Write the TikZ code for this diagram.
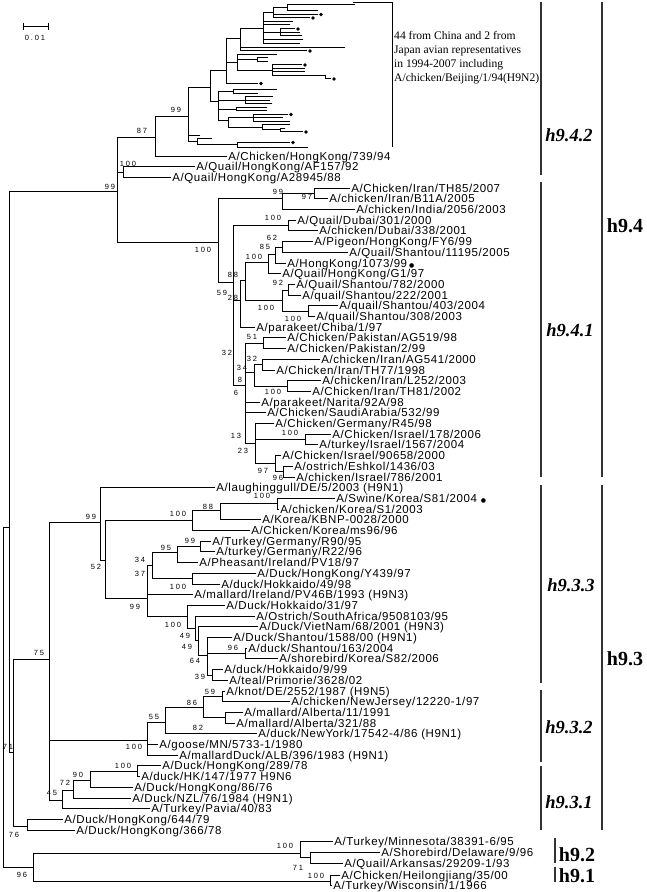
\documentclass[tikz,border=0pt]{standalone}
\usepackage{fontspec}
\setmainfont{Liberation Serif}
\newfontfamily\lblfont[LetterSpace=5]{Liberation Sans}
\newfontfamily\bsfont[LetterSpace=25]{Liberation Sans}
\newfontfamily\djvfont{DejaVu Sans}
\newcommand\dotsym{{\djvfont\fontsize{6}{6}\selectfont ●}}
\newcommand\lf[4]{\node[leafnode] (#1) at (#2,#3) {#4};}
\newcommand\tp[3]{\coordinate (#1) at (#2,#3);}
\newcommand\kids[2]{\foreach \kid in {#2}{\draw[edgeln] (#1) |- (\kid.west);}}
\newcommand\bsl[4]{\node[bsnode] (#1) at (#2,#3) {#4};}
\tikzset{
  edgeln/.style={line width=0.95pt, line cap=rect},
  leafnode/.style={anchor=west, inner xsep=1.2pt, inner ysep=0pt, text height=8pt, text depth=0pt, font=\lblfont\fontsize{11.5}{11.5}\selectfont},
  bsnode/.style={inner sep=0pt, font=\bsfont\fontsize{7.5}{7.5}\selectfont},
  cbar/.style={line width=1.2pt, black!80},
  subclade/.style={font=\bfseries\itshape\fontsize{18.5}{18.5}\selectfont, inner sep=0pt},
  mainclade/.style={font=\bfseries\fontsize{20}{20}\selectfont, inner sep=0pt}
}
\begin{document}
\begin{tikzpicture}[x=1pt,y=-1pt]
\useasboundingbox (0,0) rectangle (646,892);
\fill[white] (0,0) rectangle (646,892);

% scale bar
\draw[line width=0.95pt] (23,26) -- (48,26);
\draw[line width=0.95pt] (23,22.5) -- (23,29.5);
\draw[line width=0.95pt] (48,22.5) -- (48,29.5);
\node[bsnode] (scl) at (35,38) {0.01};

% ---------------- top cluster h9.4.2 ----------------
\tp{N99b}{188}{116}
\tp{N210}{210}{87}
\tp{N226}{226}{70}
\tp{N240}{240}{38}
\tp{N263}{263}{28}
\tp{N273}{273}{12}
\tp{N287}{287}{7}
\tp{ta}{355}{4}
\tp{tb}{318}{10}
\tp{tc}{318}{14}
\tp{td}{310}{17.5}
\tp{te}{293}{21}
\tp{tf}{290}{24.5}
\tp{N280b}{280}{32}
\tp{tg}{295}{28.5}
\tp{th}{300}{32}
\tp{ti}{302}{35.5}
\tp{tj}{303}{39.5}
\tp{tk}{300}{43}
\tp{tl}{345}{47}
\tp{tm}{307}{50.5}
\tp{N237}{237}{62}
\tp{tn}{277}{54}
\tp{N257}{257}{59}
\tp{to}{268}{57.5}
\tp{tq}{268}{61}
\tp{N272}{272}{70}
\tp{tr}{302}{64.5}
\tp{ts}{305}{68}
\tp{tt}{305}{71.5}
\tp{tu}{325}{75}
\tp{hk}{331}{78.5}
\tp{tv}{258}{83}
\tp{N218}{218}{101}
\tp{N233}{233}{91}
\tp{tw}{277}{89}
\tp{tx}{258}{93}
\tp{N245b}{245}{100}
\tp{ty}{273}{96.5}
\tp{tz}{270}{100}
\tp{ua}{272}{103.5}
\tp{N236}{236}{109}
\tp{ub}{267}{107}
\tp{uc}{267}{110.5}
\tp{N228}{228}{120}
\tp{N253}{253}{117}
\tp{ud}{288}{114}
\tp{ue}{283}{117.5}
\tp{uf}{290}{121}
\tp{N262}{262}{127}
\tp{ug}{290}{124.5}
\tp{N280c}{280}{129.5}
\tp{uh}{285}{128}
\tp{ui}{303}{131.5}
\tp{uj}{200}{135}
\tp{N197}{197}{141}
\tp{uk}{212}{138.5}
\tp{N237b}{237}{144}
\tp{ul}{290}{142}
\tp{um}{308}{147}

% box of the top cluster
\tp{bxa}{353}{2}
\tp{bxb}{392}{2}
\tp{bxc}{392}{147}
\draw[line width=0.95pt] (bxa) -- (bxb) -- (bxc);
\node[anchor=north west, inner sep=0pt, align=left, font=\fontsize{11.6}{14.2}\selectfont] (boxtext) at (394,31)
 {44 from China and 2 from\\Japan avian representatives\\in 1994-2007 including\\A/chicken/Beijing/1/94(H9N2)};

% ---------------- backbone and h9.4 ----------------
\tp{R}{3}{700}
\tp{N9}{9}{527}
\tp{H94}{117}{191}
\tp{N87}{155}{137}
\tp{N123}{123}{172}
\tp{H941}{218}{242}
\tp{N99a}{282}{198}
\tp{N97}{314}{193.5}
\tp{Na}{233}{282}
\tp{NDub}{288}{225.5}
\tp{N88}{240}{300}
\tp{N28}{245}{280}
\tp{N100c}{268}{262}
\tp{N85}{275}{254}
\tp{N62}{282}{247}
\tp{Nc}{282}{300}
\tp{N92}{288}{290}
\tp{N100d}{308}{311}
\tp{Nlow}{245}{385}
\tp{N51}{263}{343.2}
\tp{N34}{254}{372}
\tp{N32b}{262}{364.6}
\tp{N100f}{287}{386}
\tp{N13}{255}{443}
\tp{N100e}{305}{439.5}
\tp{N97b}{275}{463}
\tp{N96a}{283}{471.6}

\lf{L1}{227}{156}{A/Chicken/HongKong/739/94}
\lf{L2}{195}{166.7}{A/Quail/HongKong/AF157/92}
\lf{L3}{171}{177.4}{A/Quail/HongKong/A28945/88}
\lf{L4}{350}{188.1}{A/Chicken/Iran/TH85/2007}
\lf{L5}{328}{198.8}{A/chicken/Iran/B11A/2005}
\lf{L6}{355}{209.5}{A/chicken/India/2056/2003}
\lf{L7}{296}{220.2}{A/Quail/Dubai/301/2000}
\lf{L8}{318}{230.9}{A/chicken/Dubai/338/2001}
\lf{L9}{313}{241.6}{A/Pigeon/HongKong/FY6/99}
\lf{L10}{348}{252.3}{A/Quail/Shantou/11195/2005}
\lf{L11}{286}{263}{A/HongKong/1073/99\,\dotsym}
\lf{L12}{281}{273.7}{A/Quail/HongKong/G1/97}
\lf{L13}{295}{284.4}{A/Quail/Shantou/782/2000}
\lf{L14}{301}{295.1}{A/quail/Shantou/222/2001}
\lf{L15}{338}{305.8}{A/quail/Shantou/403/2004}
\lf{L16}{315}{316.5}{A/quail/Shantou/308/2003}
\lf{L17}{255}{327.2}{A/parakeet/Chiba/1/97}
\lf{L18}{286}{337.9}{A/Chicken/Pakistan/AG519/98}
\lf{L19}{286}{348.6}{A/Chicken/Pakistan/2/99}
\lf{L20}{320}{359.3}{A/chicken/Iran/AG541/2000}
\lf{L21}{275}{370}{A/Chicken/Iran/TH77/1998}
\lf{L22}{321}{380.7}{A/chicken/Iran/L252/2003}
\lf{L23}{311}{391.4}{A/Chicken/Iran/TH81/2002}
\lf{L24}{260}{402.1}{A/parakeet/Narita/92A/98}
\lf{L25}{266}{412.8}{A/Chicken/SaudiArabia/532/99}
\lf{L26}{274}{423.5}{A/Chicken/Germany/R45/98}
\lf{L27}{331}{434.2}{A/Chicken/Israel/178/2006}
\lf{L28}{318}{444.9}{A/turkey/Israel/1567/2004}
\lf{L29}{281}{455.6}{A/Chicken/Israel/90658/2000}
\lf{L30}{293}{466.3}{A/ostrich/Eshkol/1436/03}
\lf{L31}{295}{477}{A/chicken/Israel/786/2001}

% ---------------- h9.3, h9.2, h9.1 ----------------
\tp{N71}{13}{752}
\tp{N75}{49}{659}
\tp{N99g}{100}{522}
\tp{N52}{105}{560}
\tp{N100h}{192}{520}
\tp{N88k}{220}{510}
\tp{N100s}{277}{503.7}
\tp{N99i}{147}{598}
\tp{N3437}{152}{565}
\tp{N95}{177}{552}
\tp{N99h}{200}{546.5}
\tp{NY}{192}{578.7}
\tp{N100g}{187}{616}
\tp{N49a}{195}{628}
\tp{N49b}{198}{640}
\tp{N64}{207}{655}
\tp{N96s}{245}{653.5}
\tp{N39}{212}{675}
\tp{N100i}{147}{740}
\tp{N55}{165}{722}
\tp{N86}{203}{707}
\tp{N59k}{222}{696.4}
\tp{N82}{225}{717.8}
\tp{N45}{62}{800}
\tp{N72}{73}{790}
\tp{N90}{90}{780}
\tp{N100m}{137}{771}
\tp{N76}{27}{826}
\tp{N96}{33}{867}
\tp{N100j}{300}{853}
\tp{N71b}{310}{857.5}
\tp{N100k}{330}{881}

\lf{L32}{215}{487.7}{A/laughinggull/DE/5/2003 (H9N1)}
\lf{L33}{335}{498.4}{A/Swine/Korea/S81/2004\ \dotsym}
\lf{L34}{279}{509.1}{A/chicken/Korea/S1/2003}
\lf{L35}{261}{519.8}{A/Korea/KBNP-0028/2000}
\lf{L36}{250}{530.5}{A/Chicken/Korea/ms96/96}
\lf{L37}{211}{541.2}{A/Turkey/Germany/R90/95}
\lf{L38}{215}{551.9}{A/turkey/Germany/R22/96}
\lf{L39}{198}{562.6}{A/Pheasant/Ireland/PV18/97}
\lf{L40}{256}{573.3}{A/Duck/HongKong/Y439/97}
\lf{L41}{220}{584}{A/duck/Hokkaido/49/98}
\lf{L42}{193}{594.7}{A/mallard/Ireland/PV46B/1993 (H9N3)}
\lf{L43}{225}{605.4}{A/Duck/Hokkaido/31/97}
\lf{L44}{255}{616.1}{A/Ostrich/SouthAfrica/9508103/95}
\lf{L45}{258}{626.8}{A/Duck/VietNam/68/2001 (H9N3)}
\lf{L46}{232}{637.5}{A/Duck/Shantou/1588/00 (H9N1)}
\lf{L47}{247}{648.2}{A/duck/Shantou/163/2004}
\lf{L48}{278}{658.9}{A/shorebird/Korea/S82/2006}
\lf{L49}{223}{669.6}{A/duck/Hokkaido/9/99}
\lf{L50}{228}{680.3}{A/teal/Primorie/3628/02}
\lf{L51}{225}{691}{A/knot/DE/2552/1987 (H9N5)}
\lf{L52}{290}{701.7}{A/chicken/NewJersey/12220-1/97}
\lf{L53}{243}{712.4}{A/mallard/Alberta/11/1991}
\lf{L54}{235}{723.1}{A/mallard/Alberta/321/88}
\lf{L55}{257}{733.8}{A/duck/NewYork/17542-4/86 (H9N1)}
\lf{L56}{158}{744.5}{A/goose/MN/5733-1/1980}
\lf{L57}{178}{755.2}{A/mallardDuck/ALB/396/1983 (H9N1)}
\lf{L58}{161}{765.9}{A/Duck/HongKong/289/78}
\lf{L59}{140}{776.6}{A/duck/HK/147/1977 H9N6}
\lf{L60}{133}{787.3}{A/Duck/HongKong/86/76}
\lf{L61}{131}{798}{A/Duck/NZL/76/1984 (H9N1)}
\lf{L62}{150}{808.7}{A/Turkey/Pavia/40/83}
\lf{L63}{63}{819.4}{A/Duck/HongKong/644/79}
\lf{L64}{75}{830.1}{A/Duck/HongKong/366/78}
\lf{L65}{333}{841}{A/Turkey/Minnesota/38391-6/95}
\lf{L66}{380}{852}{A/Shorebird/Delaware/9/96}
\lf{L67}{343}{863}{A/Quail/Arkansas/29209-1/93}
\lf{L68}{340}{875}{A/Chicken/Heilongjiang/35/00}
\lf{L69}{332}{885}{A/Turkey/Wisconsin/1/1966}

% ---------------- branches ----------------
\kids{N99b}{N210,uj,N197}
\kids{N210}{N226,N218}
\kids{N226}{N240,N237,tv}
\kids{N240}{N263,tl,tm}
\kids{N263}{N273,te,tf,N280b,tj,tk}
\kids{N273}{N287,tc,td}
\kids{N287}{ta,tb}
\kids{N280b}{tg,th,ti}
\kids{N237}{tn,N257,N272}
\kids{N257}{to,tq}
\kids{N272}{tr,ts,tt,tu}
\kids{tu}{hk}
\kids{N218}{N233,N245b,N236,N228}
\kids{N233}{tw,tx}
\kids{N245b}{ty,tz,ua}
\kids{N236}{ub,uc}
\kids{N228}{N253,N262}
\kids{N253}{ud,ue,uf}
\kids{N262}{ug,N280c}
\kids{N280c}{uh,ui}
\kids{N197}{uk,N237b}
\kids{N237b}{ul,um}
\foreach \dd in {tc,td,tg,tm,tr,hk,tv,ud,ui,ul}{\fill (\dd) ++(3,0.5) circle (1.9pt);}

\kids{R}{N9,N96}
\kids{N9}{H94,N71}
\kids{H94}{N87,N123,H941}
\kids{N87}{N99b,L1}
\kids{N123}{L2,L3}
\kids{H941}{N99a,Na}
\kids{N99a}{N97,L6}
\kids{N97}{L4,L5}
\kids{Na}{NDub,N88,Nlow}
\kids{NDub}{L7,L8}
\kids{N88}{N28,L17}
\kids{N28}{N100c,Nc}
\kids{N100c}{N85,L12}
\kids{N85}{N62,L11}
\kids{N62}{L9,L10}
\kids{Nc}{N92,N100d}
\kids{N92}{L13,L14}
\kids{N100d}{L15,L16}
\kids{Nlow}{N51,N34,L24,L25,N13}
\kids{N51}{L18,L19}
\kids{N34}{N32b,N100f}
\kids{N32b}{L20,L21}
\kids{N100f}{L22,L23}
\kids{N13}{L26,N100e,N97b}
\kids{N100e}{L27,L28}
\kids{N97b}{L29,N96a}
\kids{N96a}{L30,L31}

\kids{N71}{N75,N76}
\kids{N75}{N99g,N100i,N45}
\kids{N99g}{L32,N52}
\kids{N52}{N100h,N99i}
\kids{N100h}{N88k,L36}
\kids{N88k}{N100s,L35}
\kids{N100s}{L33,L34}
\kids{N99i}{N3437,L42,N100g}
\kids{N3437}{N95,NY}
\kids{N95}{N99h,L39}
\kids{N99h}{L37,L38}
\kids{NY}{L40,L41}
\kids{N100g}{L43,N49a}
\kids{N49a}{L44,N49b}
\kids{N49b}{L45,N64}
\kids{N64}{L46,N96s,N39}
\kids{N96s}{L47,L48}
\kids{N39}{L49,L50}
\kids{N100i}{N55,L56,L57}
\kids{N55}{N86,L55}
\kids{N86}{N59k,N82}
\kids{N59k}{L51,L52}
\kids{N82}{L53,L54}
\kids{N45}{N72,L62}
\kids{N72}{N90,L61}
\kids{N90}{N100m,L60}
\kids{N100m}{L58,L59}
\kids{N76}{L63,L64}
\kids{N96}{N100j,N100k}
\kids{N100j}{L65,N71b}
\kids{N71b}{L66,L67}
\kids{N100k}{L68,L69}

% ---------------- bootstrap values ----------------
\bsl{b1}{142}{131}{87}
\bsl{b2}{176}{110}{99}
\bsl{b3}{110}{187}{99}
\bsl{b4}{128}{164}{100}
\bsl{b5}{203}{250}{100}
\bsl{b6}{278}{192}{99}
\bsl{b7}{307}{197}{97}
\bsl{b8}{273}{218}{100}
\bsl{b9}{272}{238}{62}
\bsl{b10}{265}{247}{85}
\bsl{b11}{254}{257}{100}
\bsl{b12}{233}{275}{88}
\bsl{b13}{278}{283}{92}
\bsl{b14}{222}{293}{59}
\bsl{b15}{233}{298}{28}
\bsl{b16}{266}{308}{100}
\bsl{b17}{293}{319}{100}
\bsl{b18}{252}{337}{51}
\bsl{b19}{227}{353}{32}
\bsl{b20}{252}{359}{32}
\bsl{b21}{242}{368}{34}
\bsl{b22}{240}{380}{8}
\bsl{b23}{236}{393}{6}
\bsl{b24}{273}{392}{100}
\bsl{b25}{236}{436}{13}
\bsl{b26}{290}{433}{100}
\bsl{b27}{243}{451}{23}
\bsl{b28}{263}{471}{97}
\bsl{b29}{278}{478}{96}
\bsl{b30}{91}{517}{99}
\bsl{b31}{262}{496}{100}
\bsl{b32}{208}{507}{88}
\bsl{b33}{178}{514}{100}
\bsl{b34}{190}{541}{99}
\bsl{b35}{166}{548}{95}
\bsl{b36}{96}{567}{52}
\bsl{b37}{140}{560}{34}
\bsl{b38}{140}{574}{37}
\bsl{b39}{178}{587}{100}
\bsl{b40}{135}{607}{99}
\bsl{b41}{173}{625}{100}
\bsl{b42}{185}{636}{49}
\bsl{b43}{187}{647}{49}
\bsl{b44}{233}{648}{96}
\bsl{b45}{195}{661}{64}
\bsl{b46}{200}{677}{39}
\bsl{b47}{39}{653}{75}
\bsl{b48}{210}{692}{59}
\bsl{b49}{192}{703}{86}
\bsl{b50}{154}{717}{55}
\bsl{b51}{198}{728}{82}
\bsl{b52}{134}{747}{100}
\bsl{b53}{8}{747}{71}
\bsl{b54}{123}{766}{100}
\bsl{b55}{78}{775}{90}
\bsl{b56}{65}{783}{72}
\bsl{b57}{52}{793}{45}
\bsl{b58}{14}{835}{76}
\bsl{b59}{285}{846}{100}
\bsl{b60}{298}{868}{71}
\bsl{b61}{22}{875}{96}
\bsl{b62}{316}{876}{100}

% ---------------- clade bars and names ----------------
\draw[cbar] (541,2) -- (541,175);
\draw[cbar] (541,182) -- (541,477);
\draw[cbar] (541,485) -- (541,683);
\draw[cbar] (541,690) -- (541,762);
\draw[cbar] (541,766) -- (541,830);
\draw[cbar] (602,2) -- (602,477);
\draw[cbar] (602,485) -- (602,830);
\draw[cbar] (555,838) -- (555,863);
\draw[cbar] (555,867) -- (555,882);
\node[subclade] (c942) at (569,135) {h9.4.2};
\node[subclade] (c941) at (570,330) {h9.4.1};
\node[subclade] (c933) at (571,585) {h9.3.3};
\node[subclade] (c932) at (569,727) {h9.3.2};
\node[subclade] (c931) at (569,802) {h9.3.1};
\node[mainclade] (c94) at (625,226) {h9.4};
\node[mainclade] (c93) at (625,659) {h9.3};
\node[mainclade] (c92) at (577,855) {h9.2};
\node[mainclade] (c91) at (577,876) {h9.1};
\end{tikzpicture}
\end{document}
